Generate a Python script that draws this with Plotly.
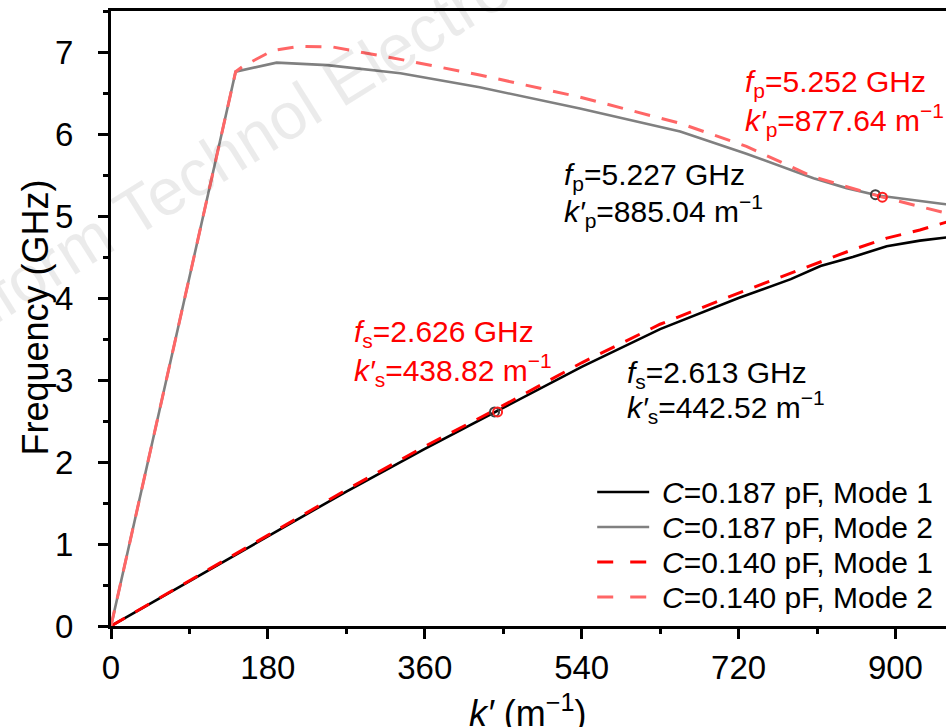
import plotly.graph_objects as go

# ---------------- data ----------------
k_m1_c187 = [0, 90, 180, 270, 360, 442, 540, 630, 720, 780, 814, 851, 890, 928, 960]
f_m1_c187 = [0, 0.55, 1.10, 1.64, 2.16, 2.613, 3.16, 3.62, 4.00, 4.23, 4.39, 4.50, 4.63, 4.70, 4.74]

k_m2_c187 = [0, 143, 190, 248, 332, 423, 538, 653, 729, 806, 844, 880, 953, 960]
f_m2_c187 = [0, 6.76, 6.87, 6.84, 6.74, 6.57, 6.31, 6.03, 5.76, 5.46, 5.34, 5.25, 5.15, 5.14]

k_m1_c140 = [0, 90, 180, 270, 360, 439, 540, 630, 720, 780, 814, 851, 890, 928, 960]
f_m1_c140 = [0, 0.55, 1.11, 1.66, 2.19, 2.626, 3.21, 3.68, 4.06, 4.30, 4.44, 4.59, 4.73, 4.83, 4.93]

k_m2_c140 = [0, 143, 152, 186, 217, 255, 332, 423, 538, 653, 729, 805, 885, 953, 960]
f_m2_c140 = [0, 6.76, 6.83, 7.02, 7.07, 7.06, 6.91, 6.72, 6.45, 6.13, 5.85, 5.48, 5.23, 5.05, 5.03]

# marked points (positions as seen in the picture)
mark_k_c187 = [440, 877]
mark_f_c187 = [2.61, 5.26]
mark_k_c140 = [443.5, 885]
mark_f_c140 = [2.61, 5.23]

x_ticks = [0, 180, 360, 540, 720, 900]
y_ticks = [0, 1, 2, 3, 4, 5, 6, 7]

legend_names = ["<i>C</i>=0.187 pF, Mode 1", "<i>C</i>=0.187 pF, Mode 2",
                "<i>C</i>=0.140 pF, Mode 1", "<i>C</i>=0.140 pF, Mode 2"]
series_colors = ["#000000", "#808080", "#ff0000", "#ff6666"]
series_dash = ["solid", "solid", "16px,12px", "16px,12px"]
series_width = [2.6, 2.6, 3, 3]

FONT = "Arial, Liberation Sans, sans-serif"

series = [(k_m1_c187, f_m1_c187), (k_m2_c187, f_m2_c187),
          (k_m1_c140, f_m1_c140), (k_m2_c140, f_m2_c140)]

fig = go.Figure()
for i, (kx, fy) in enumerate(series):
    fig.add_trace(go.Scatter(x=kx, y=fy, mode="lines", name=legend_names[i], showlegend=False,
                             line=dict(color=series_colors[i], width=series_width[i],
                                       dash=series_dash[i])))
fig.add_trace(go.Scatter(x=mark_k_c187, y=mark_f_c187, mode="markers", showlegend=False,
                         marker=dict(symbol="circle-open", size=9, color="#404040",
                                     line=dict(width=2, color="#404040"))))
fig.add_trace(go.Scatter(x=mark_k_c140, y=mark_f_c140, mode="markers", showlegend=False,
                         marker=dict(symbol="circle-open", size=9, color="#ff2020",
                                     line=dict(width=2, color="#ff2020"))))

# plot-area pixel geometry (for placing text)
L, R, T, B = 110.5, 946.0, 11.0, 626.0


def px2paper(px, py):
    return (px - L) / (R - L), (B - py) / (B - T)


ann_specs = [
    ("<i>f</i><sub>p</sub>=5.252 GHz", 743, 83, "#ff0000"),
    ("<i>k′</i><sub>p</sub>=877.64 m<sup>−1</sup>", 743, 120, "#ff0000"),
    ("<i>f</i><sub>p</sub>=5.227 GHz", 562, 176, "#000000"),
    ("<i>k′</i><sub>p</sub>=885.04 m<sup>−1</sup>", 562, 211, "#000000"),
    ("<i>f</i><sub>s</sub>=2.626 GHz", 352, 333, "#ff0000"),
    ("<i>k′</i><sub>s</sub>=438.82 m<sup>−1</sup>", 352, 370, "#ff0000"),
    ("<i>f</i><sub>s</sub>=2.613 GHz", 625, 374, "#000000"),
    ("<i>k′</i><sub>s</sub>=442.52 m<sup>−1</sup>", 625, 407, "#000000"),
]
annotations = []
for txt, px, py, col in ann_specs:
    ax, ay = px2paper(px, py)
    annotations.append(dict(text=txt, x=ax, y=ay, xref="paper", yref="paper",
                            xanchor="left", yanchor="middle", showarrow=False,
                            font=dict(family=FONT, size=30, color=col)))

# axis titles
tx, ty = px2paper(527, 711)
annotations.append(dict(text="<i>k′</i> (m<sup>−1</sup>)", x=tx, y=ty, xref="paper", yref="paper",
                        xanchor="center", yanchor="middle", showarrow=False,
                        font=dict(family=FONT, size=36, color="black")))
tx, ty = px2paper(34, 318)
annotations.append(dict(text="Frequency (GHz)", x=tx, y=ty, xref="paper", yref="paper",
                        xanchor="center", yanchor="middle", showarrow=False, textangle=-90,
                        font=dict(family=FONT, size=36, color="black")))

# legend (sample line + label per series)
shapes = []
legend_rows = [492, 527, 562, 597]
for i, row in enumerate(legend_rows):
    x0, y0 = px2paper(597, row)
    x1, _ = px2paper(649, row)
    shapes.append(dict(type="line", xref="paper", yref="paper", x0=x0, x1=x1, y0=y0, y1=y0,
                       line=dict(color=series_colors[i], width=series_width[i],
                                 dash="solid" if series_dash[i] == "solid" else "16px,17px")))
    lx, ly = px2paper(660, row)
    annotations.append(dict(text=legend_names[i], x=lx, y=ly, xref="paper", yref="paper",
                            xanchor="left", yanchor="middle", showarrow=False,
                            font=dict(family=FONT, size=30, color="black")))

# faint watermark
wx, wy = px2paper(241, 144)
annotations.append(dict(text="Inform Technol Electron", x=wx, y=wy, xref="paper", yref="paper",
                        xanchor="center", yanchor="middle",
                        showarrow=False, textangle=-32,
                        font=dict(family=FONT, size=66, color="rgba(0,0,0,0.08)")))

fig.update_layout(
    width=946, height=727,
    margin=dict(l=L, r=0, t=T, b=727 - B, autoexpand=False),
    paper_bgcolor="white", plot_bgcolor="white",
    font=dict(family=FONT, color="black"),
    showlegend=False,
    hovermode=False,
    annotations=annotations,
    shapes=shapes,
)

fig.update_xaxes(
    range=[0, 958], tickvals=x_ticks, ticktext=[str(v) for v in x_ticks],
    ticks="outside", ticklen=10, tickwidth=2.5, tickcolor="black",
    minor=dict(dtick=90, tick0=0, ticks="outside", ticklen=5, tickwidth=2.5, tickcolor="black"),
    showline=True, linewidth=3, linecolor="black", mirror=True,
    showgrid=False, zeroline=False, automargin=False,
    tickfont=dict(family=FONT, size=33, color="black"),
    ticklabelstandoff=0,
)
fig.update_yaxes(
    range=[0, 7.5], tickvals=y_ticks, ticktext=[str(v) for v in y_ticks],
    ticks="outside", ticklen=10, tickwidth=2.5, tickcolor="black",
    minor=dict(dtick=0.5, tick0=0, ticks="outside", ticklen=5, tickwidth=2.5, tickcolor="black"),
    showline=True, linewidth=3, linecolor="black", mirror=False,
    showgrid=False, zeroline=False, automargin=False,
    tickfont=dict(family=FONT, size=33, color="black"),
    ticklabelstandoff=18,
)

fig.write_html("out.html", config={"displayModeBar": False},
               post_script="document.body.style.margin='0';document.body.style.overflow='hidden';")
